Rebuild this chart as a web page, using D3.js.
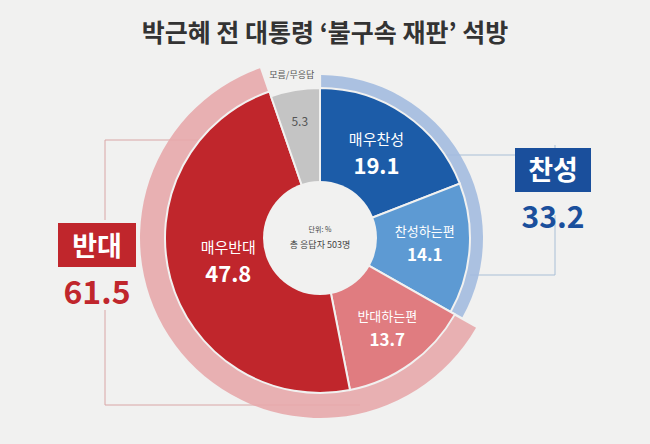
<!DOCTYPE html>
<html><head><meta charset="utf-8">
<script src="https://cdn.jsdelivr.net/npm/d3@7"></script>
<style>body{margin:0;background:#f1f1f0;font-family:"Noto Sans CJK KR","Noto Sans",sans-serif}</style>
</head><body><div id="chart"></div>
<script>
var categories = ["매우찬성", "찬성하는편", "반대하는편", "매우반대", "모름/무응답"];
var values = [19.1, 14.1, 13.7, 47.8, 5.3];
var groups = ["찬성", "반대"];
var groupValues = [33.2, 61.5];
var colors = ["#1c5ca8", "#5d9ad3", "#e07c80", "#c0262c", "#c4c4c4"];

var W = 650, H = 444, cx = 320, cy = 238;
var svg = d3.select("#chart").append("svg").attr("width", W).attr("height", H);
svg.append("rect").attr("width", W).attr("height", H).attr("fill", "#f1f1f0");

svg.append("text").attr("x", W/2).attr("y", 42).attr("text-anchor", "middle")
    .attr("font-size", 25).attr("font-weight", "bold").attr("fill", "#333")
    .text("박근혜 전 대통령 ‘불구속 재판’ 석방");

// brackets
svg.append("path").attr("fill", "none").attr("stroke", "#a9bfd6").attr("stroke-width", 1)
    .attr("d", "M440,155H555V145M555,215V275H470");
svg.append("path").attr("fill", "none").attr("stroke", "#d9a6a6").attr("stroke-width", 1)
    .attr("d", "M210,140H105V220M105,310V405H360");

var pie = d3.pie().sort(null).value(function(d){ return d; });
var arcs = pie(values);
var outerR = [150, 150, 155, 155, 150];
var g = svg.append("g").attr("transform", "translate(" + cx + "," + cy + ")");

// outer group ring
var total = d3.sum(values);
var a = d3.scaleLinear().domain([0, total]).range([0, 2 * Math.PI]);
var ringCol = ["#a3bbdf", "#e7a8ab"];
var start = 0;
groupValues.forEach(function(v, i){
    g.append("path").attr("fill", ringCol[i]).attr("opacity", 0.9)
        .attr("d", d3.arc().innerRadius(i ? 155 : 150).outerRadius(i ? 180 : 163)
            .startAngle(a(start)).endAngle(a(start + v)).padAngle(0.01)());
    start += v;
});

g.selectAll(".slice").data(arcs).enter().append("path")
    .attr("class", "slice")
    .attr("fill", function(d, i){ return colors[i]; })
    .attr("stroke", "#f1f1f0").attr("stroke-width", 2)
    .attr("d", function(d, i){ return d3.arc().innerRadius(0).outerRadius(outerR[i])(d); });

g.append("circle").attr("r", 57).attr("fill", "#f1f1f0");
g.append("text").attr("y", -6).attr("text-anchor", "middle").attr("font-size", 7).attr("fill", "#444").text("단위: %");
g.append("text").attr("y", 10).attr("text-anchor", "middle").attr("font-size", 9).attr("fill", "#444").text("총 응답자 503명");

var labelR = [100, 105, 115, 95, 122];
arcs.forEach(function(d, i){
    var m = (d.startAngle + d.endAngle) / 2;
    var x = Math.sin(m) * labelR[i], y = -Math.cos(m) * labelR[i];
    if (i < 4) {
        var big = i == 0 || i == 3;
        g.append("text").attr("x", x).attr("y", y - 10).attr("text-anchor", "middle")
            .attr("font-size", big ? 15 : 13).attr("fill", "#fff").text(categories[i]);
        g.append("text").attr("x", x).attr("y", y + (big ? 19 : 15)).attr("text-anchor", "middle")
            .attr("font-size", big ? 22 : 17).attr("font-weight", "bold").attr("fill", "#fff").text(values[i]);
    } else {
        g.append("text").attr("x", x).attr("y", y + 8).attr("text-anchor", "middle")
            .attr("font-size", 12).attr("fill", "#555").text(values[i]);
        g.append("text").attr("x", x - 8).attr("y", -160).attr("text-anchor", "middle")
            .attr("font-size", 9).attr("fill", "#555").text(categories[i]);
    }
});

// group labels
svg.append("rect").attr("x", 515).attr("y", 148).attr("width", 76).attr("height", 44).attr("fill", "#1a4f9c");
svg.append("text").attr("x", 553).attr("y", 180).attr("text-anchor", "middle").attr("font-size", 27)
    .attr("font-weight", "bold").attr("fill", "#fff").text(groups[0]);
svg.append("text").attr("x", 553).attr("y", 228).attr("text-anchor", "middle").attr("font-size", 30)
    .attr("font-weight", "bold").attr("fill", "#1a4f9c").text(groupValues[0]);
svg.append("rect").attr("x", 58).attr("y", 223).attr("width", 78).attr("height", 44).attr("fill", "#c0262c");
svg.append("text").attr("x", 97).attr("y", 256).attr("text-anchor", "middle").attr("font-size", 27)
    .attr("font-weight", "bold").attr("fill", "#fff").text(groups[1]);
svg.append("text").attr("x", 97).attr("y", 304).attr("text-anchor", "middle").attr("font-size", 32)
    .attr("font-weight", "bold").attr("fill", "#c0262c").text(groupValues[1]);
</script></body></html>
